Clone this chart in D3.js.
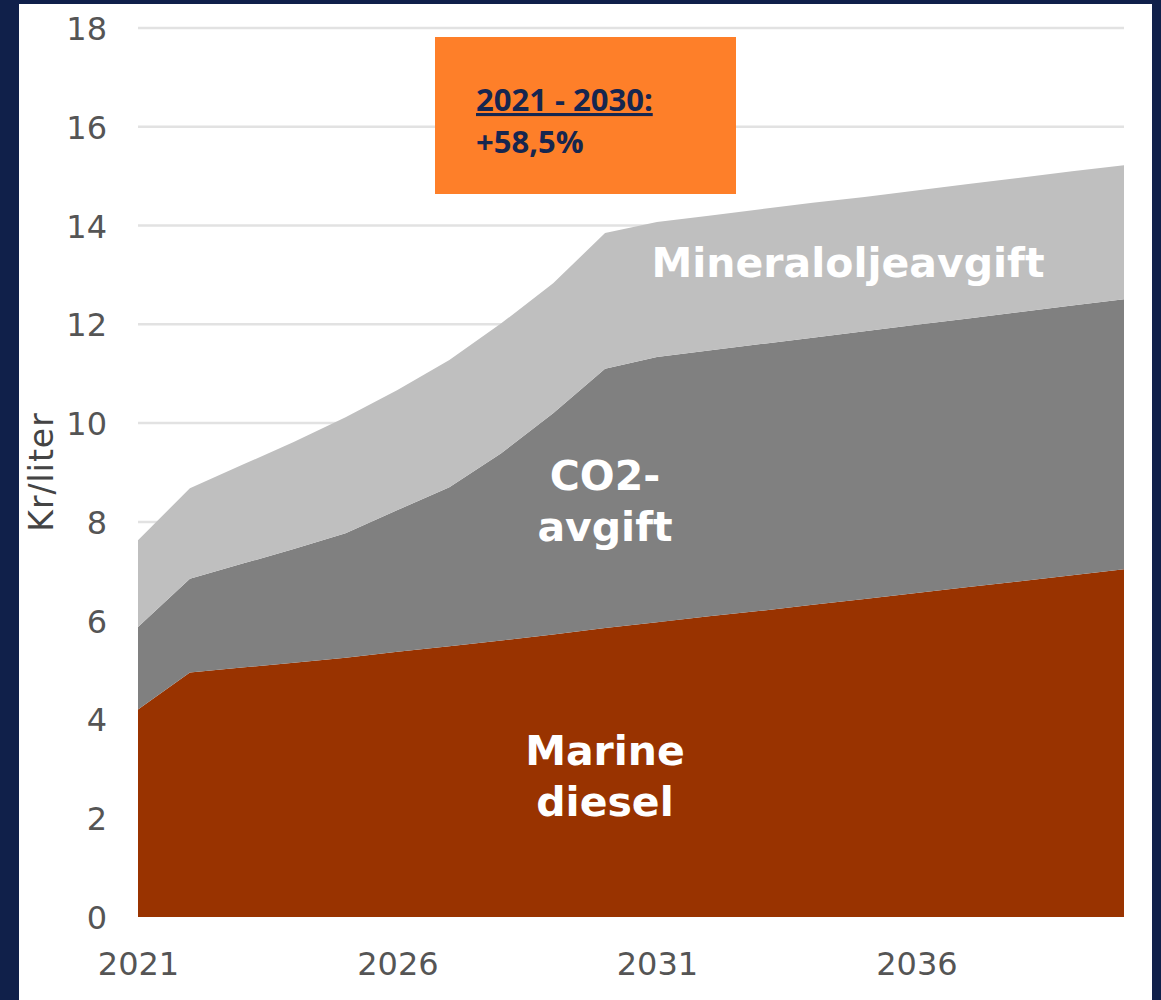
<!DOCTYPE html>
<html>
<head>
<meta charset="utf-8">
<script src="https://cdn.jsdelivr.net/npm/d3@7"></script>
<style>
  body { margin: 0; background: #10204a; }
  svg { display: block; }
</style>
</head>
<body>
<svg id="chart" width="1161" height="1000"></svg>
<script>
var years = [2021, 2022, 2023, 2024, 2025, 2026, 2027, 2028, 2029, 2030,
             2031, 2032, 2033, 2034, 2035, 2036, 2037, 2038, 2039, 2040];

// kr/liter per component
var marineDiesel = [4.20, 4.95, 5.05, 5.15, 5.25, 5.37, 5.48, 5.60, 5.72, 5.85,
                    5.97, 6.09, 6.20, 6.32, 6.44, 6.56, 6.68, 6.80, 6.92, 7.04];
var co2Avgift = [1.67, 1.90, 2.10, 2.30, 2.52, 2.87, 3.22, 3.79, 4.48, 5.25,
                 5.37, 5.38, 5.40, 5.41, 5.42, 5.43, 5.44, 5.45, 5.46, 5.47];
var mineralolje = [1.76, 1.83, 2.00, 2.17, 2.35, 2.43, 2.58, 2.63, 2.63, 2.75,
                   2.73, 2.73, 2.73, 2.73, 2.72, 2.72, 2.72, 2.72, 2.72, 2.71];

var seriesKeys = ["diesel", "co2", "mineral"];
var seriesColors = ["#993300", "#808080", "#bfbfbf"];
var yTicks = [0, 2, 4, 6, 8, 10, 12, 14, 16, 18];
var xTicks = [2021, 2026, 2031, 2036];

var svg = d3.select("#chart");

// white panel inside the navy frame
svg.append("rect")
    .attr("x", 19).attr("y", 4)
    .attr("width", 1133).attr("height", 996)
    .attr("fill", "#ffffff");

var x = d3.scaleLinear().domain([2021, 2040]).range([138, 1124]),
    y = d3.scaleLinear().domain([0, 18]).range([917, 28]);

var data = years.map(function(yr, i) {
    return { year: yr, diesel: marineDiesel[i], co2: co2Avgift[i], mineral: mineralolje[i] };
});

var stack = d3.stack().keys(seriesKeys);
var layers = stack(data);

// gridlines
svg.append("g")
    .selectAll("line")
    .data(yTicks.filter(function(d) { return d > 0; }))
    .enter().append("line")
    .attr("x1", x(2021)).attr("x2", x(2040))
    .attr("y1", function(d) { return y(d); })
    .attr("y2", function(d) { return y(d); })
    .attr("stroke", "#e2e2e2")
    .attr("stroke-width", 2.5);

var area = d3.area()
    .curve(d3.curveLinear)
    .x(function(d) { return x(d.data.year); })
    .y0(function(d) { return y(d[0]); })
    .y1(function(d) { return y(d[1]); });

svg.append("g")
    .selectAll("path")
    .data(layers)
    .enter().append("path")
    .attr("fill", function(d, i) { return seriesColors[i]; })
    .attr("d", area);

// y axis
var yAxis = d3.axisLeft(y).tickValues(yTicks).tickSize(0).tickPadding(0);
var gy = svg.append("g")
    .attr("transform", "translate(107,0)")
    .call(yAxis);
gy.select(".domain").remove();
gy.selectAll("text")
    .attr("font-family", "'DejaVu Sans', Verdana, sans-serif")
    .attr("font-size", 32)
    .attr("fill", "#555")
    .attr("dy", "0.36em");

// x axis
var xAxis = d3.axisBottom(x).tickValues(xTicks).tickFormat(d3.format("d")).tickSize(0).tickPadding(0);
var gx = svg.append("g")
    .attr("transform", "translate(0,975)")
    .call(xAxis);
gx.select(".domain").remove();
gx.selectAll("text")
    .attr("font-family", "'DejaVu Sans', Verdana, sans-serif")
    .attr("font-size", 32)
    .attr("fill", "#555")
    .attr("dy", 0);

// axis title
svg.append("text")
    .attr("transform", "translate(53,472) rotate(-90)")
    .attr("text-anchor", "middle")
    .attr("font-family", "'DejaVu Sans', Verdana, sans-serif")
    .attr("font-size", 33)
    .attr("letter-spacing", 1)
    .attr("fill", "#444")
    .text("Kr/liter");

// area labels
var labels = [
    { lines: ["Mineraloljeavgift"], x: 848, y: 277 },
    { lines: ["CO2-", "avgift"], x: 605, y: 490 },
    { lines: ["Marine", "diesel"], x: 605, y: 765 }
];
labels.forEach(function(l) {
    var t = svg.append("text")
        .attr("text-anchor", "middle")
        .attr("font-family", "'DejaVu Sans', Verdana, sans-serif")
        .attr("font-weight", "bold")
        .attr("font-size", 41)
        .attr("fill", "#ffffff");
    l.lines.forEach(function(s, i) {
        t.append("tspan").attr("x", l.x).attr("y", l.y + i * 51).text(s);
    });
});

// orange note box
svg.append("rect")
    .attr("x", 435).attr("y", 37)
    .attr("width", 301).attr("height", 157)
    .attr("fill", "#fe7f29");

svg.append("text")
    .attr("x", 476).attr("y", 111)
    .attr("font-family", "'Open Sans', sans-serif")
    .attr("font-weight", "bold")
    .attr("font-size", 31)
    .attr("fill", "#16264f")
    .attr("text-decoration", "underline")
    .text("2021 - 2030:");

svg.append("text")
    .attr("x", 476).attr("y", 153)
    .attr("font-family", "'Open Sans', sans-serif")
    .attr("font-weight", "bold")
    .attr("font-size", 31)
    .attr("fill", "#16264f")
    .text("+58,5%");
</script>
</body>
</html>
